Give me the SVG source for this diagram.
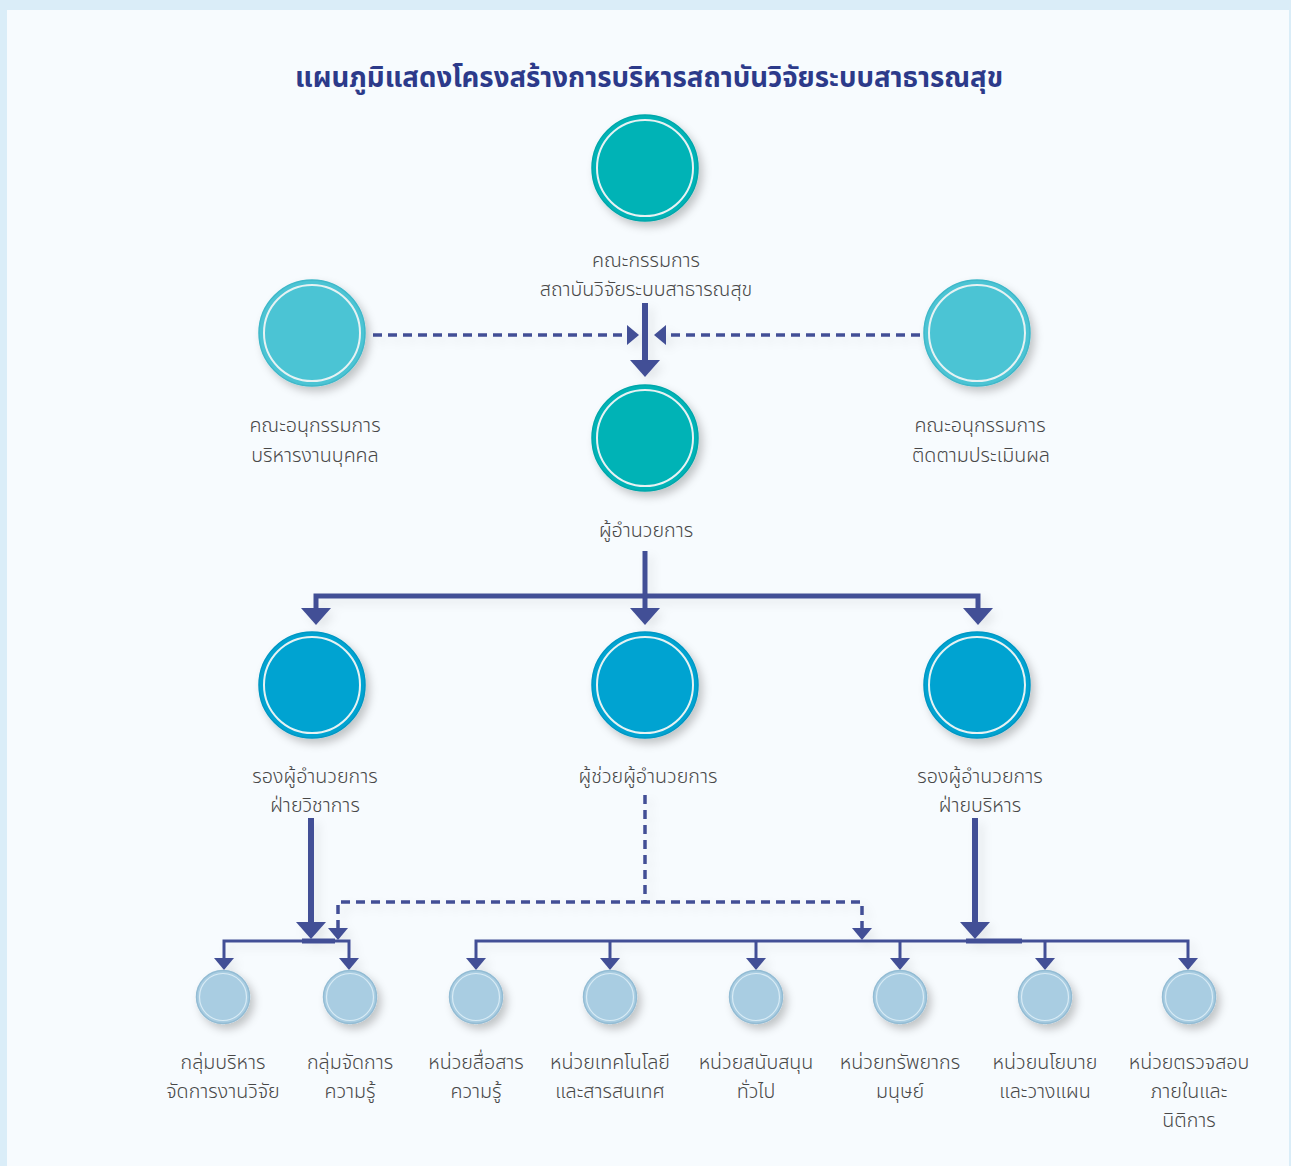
<svg xmlns="http://www.w3.org/2000/svg" width="1291" height="1166" viewBox="0 0 1291 1166">
<style>
.lbl{font-family:"Noto Sans Thai","Noto Sans","DejaVu Sans",sans-serif;font-size:19.7px;fill:#484848;text-anchor:middle;font-weight:300}
.title{font-family:"Noto Sans Thai","Noto Sans","DejaVu Sans",sans-serif;font-size:27.6px;fill:#2c3a8a;text-anchor:middle;font-weight:700}
.ln{stroke:#434f96;fill:none}
.dash{stroke:#434f96;fill:none;stroke-width:3.5;stroke-dasharray:9 6}
.ah{fill:#434f96}
.ring{fill:none;stroke:#e6f2f3;stroke-width:2}
.c1{fill:#00b3b6;stroke:#00a7aa;stroke-width:1.5}
.c2{fill:#4cc4d4;stroke:#3fb8c9;stroke-width:1.5}
.c3{fill:#00a3d1;stroke:#0097c3;stroke-width:1.5}
.c4{fill:#a9cde2;stroke:#93bcd4;stroke-width:1.5}
.ring4{fill:none;stroke:#d8ebf5;stroke-width:1.2}
</style>
<defs>
<filter id="sh" x="-30%" y="-30%" width="170%" height="170%">
<feDropShadow dx="4" dy="5" stdDeviation="4" flood-color="#000" flood-opacity="0.22"/>
</filter>
<filter id="lsh" x="-20%" y="-20%" width="140%" height="140%">
<feDropShadow dx="5" dy="5" stdDeviation="5" flood-color="#000" flood-opacity="0.08"/>
</filter>
</defs>
<rect width="1291" height="1166" fill="#daedf8"/>
<rect x="7" y="10" width="1282" height="1156" fill="#f7fbfe"/>
<text class="title" x="649" y="87">แผนภูมิแสดงโครงสร้างการบริหารสถาบันวิจัยระบบสาธารณสุข</text>

<g id="connectors" filter="url(#lsh)">
<line class="ln" x1="645" y1="303" x2="645" y2="362" stroke-width="6"/>
<polygon class="ah" points="630,360 660,360 645,377"/>
<line class="dash" x1="373" y1="335" x2="627" y2="335"/>
<polygon class="ah" points="627,325 639,335 627,345"/>
<line class="dash" x1="920" y1="335" x2="666" y2="335"/>
<polygon class="ah" points="666,325 654,335 666,345"/>

<line class="ln" x1="645" y1="551" x2="645" y2="610" stroke-width="5"/>
<polygon class="ah" points="630,608 660,608 645,625"/>
<polyline class="ln" points="316,610 316,596 978,596 978,610" stroke-width="5"/>
<polygon class="ah" points="301,608 331,608 316,625"/>
<polygon class="ah" points="963,608 993,608 978,625"/>

<line class="ln" x1="311" y1="818" x2="311" y2="924" stroke-width="6"/>
<polygon class="ah" points="296,922 326,922 311,939"/>
<polyline class="ln" points="224,960 224,941 349,941 349,960" stroke-width="3"/>
<line class="ln" x1="302" y1="941" x2="335" y2="941" stroke-width="5"/>
<polygon class="ah" points="214,958 234,958 224,970"/>
<polygon class="ah" points="339,958 359,958 349,970"/>

<line class="dash" x1="645" y1="795" x2="645" y2="902"/>
<polyline class="dash" points="338,929 338,902 862,902 862,929"/>
<polygon class="ah" points="328,928 348,928 338,940"/>
<polygon class="ah" points="852,928 872,928 862,940"/>

<line class="ln" x1="975" y1="818" x2="975" y2="924" stroke-width="6"/>
<polygon class="ah" points="960,922 990,922 975,939"/>
<polyline class="ln" points="476,960 476,941 1188,941 1188,960" stroke-width="3"/>
<line class="ln" x1="966" y1="941" x2="1022" y2="941" stroke-width="5"/>
<line class="ln" x1="610" y1="941" x2="610" y2="960" stroke-width="3"/>
<line class="ln" x1="756" y1="941" x2="756" y2="960" stroke-width="3"/>
<line class="ln" x1="900" y1="941" x2="900" y2="960" stroke-width="3"/>
<line class="ln" x1="1045" y1="941" x2="1045" y2="960" stroke-width="3"/>
<polygon class="ah" points="466,958 486,958 476,970"/>
<polygon class="ah" points="600,958 620,958 610,970"/>
<polygon class="ah" points="746,958 766,958 756,970"/>
<polygon class="ah" points="890,958 910,958 900,970"/>
<polygon class="ah" points="1035,958 1055,958 1045,970"/>
<polygon class="ah" points="1178,958 1198,958 1188,970"/>
</g>

<g id="board">
<circle class="c1" cx="645" cy="168" r="53" filter="url(#sh)"/>
<circle class="ring" cx="645" cy="168" r="48"/>
<text class="lbl" x="646" y="267">คณะกรรมการ</text>
<text class="lbl" x="646" y="296">สถาบันวิจัยระบบสาธารณสุข</text>
</g>
<g id="sub-hr">
<circle class="c2" cx="312" cy="333" r="53" filter="url(#sh)"/>
<circle class="ring" cx="312" cy="333" r="48"/>
<text class="lbl" x="315" y="432">คณะอนุกรรมการ</text>
<text class="lbl" x="315" y="462">บริหารงานบุคคล</text>
</g>
<g id="sub-eval">
<circle class="c2" cx="977" cy="333" r="53" filter="url(#sh)"/>
<circle class="ring" cx="977" cy="333" r="48"/>
<text class="lbl" x="980" y="432">คณะอนุกรรมการ</text>
<text class="lbl" x="981" y="462">ติดตามประเมินผล</text>
</g>
<g id="director">
<circle class="c1" cx="645" cy="438" r="53" filter="url(#sh)"/>
<circle class="ring" cx="645" cy="438" r="48"/>
<text class="lbl" x="646" y="537">ผู้อำนวยการ</text>
</g>
<g id="vp-academic">
<circle class="c3" cx="312" cy="685" r="53" filter="url(#sh)"/>
<circle class="ring" cx="312" cy="685" r="48"/>
<text class="lbl" x="315" y="783">รองผู้อำนวยการ</text>
<text class="lbl" x="315" y="812">ฝ่ายวิชาการ</text>
</g>
<g id="assistant">
<circle class="c3" cx="645" cy="685" r="53" filter="url(#sh)"/>
<circle class="ring" cx="645" cy="685" r="48"/>
<text class="lbl" x="648" y="783">ผู้ช่วยผู้อำนวยการ</text>
</g>
<g id="vp-admin">
<circle class="c3" cx="977" cy="685" r="53" filter="url(#sh)"/>
<circle class="ring" cx="977" cy="685" r="48"/>
<text class="lbl" x="980" y="783">รองผู้อำนวยการ</text>
<text class="lbl" x="980" y="812">ฝ่ายบริหาร</text>
</g>

<g id="u1">
<circle class="c4" cx="223" cy="997" r="26.5" filter="url(#sh)"/>
<circle class="ring4" cx="223" cy="997" r="23.5"/>
<text class="lbl" x="223" y="1069">กลุ่มบริหาร</text>
<text class="lbl" x="223" y="1098">จัดการงานวิจัย</text>
</g>
<g id="u2">
<circle class="c4" cx="350" cy="997" r="26.5" filter="url(#sh)"/>
<circle class="ring4" cx="350" cy="997" r="23.5"/>
<text class="lbl" x="350" y="1069">กลุ่มจัดการ</text>
<text class="lbl" x="350" y="1098">ความรู้</text>
</g>
<g id="u3">
<circle class="c4" cx="476" cy="997" r="26.5" filter="url(#sh)"/>
<circle class="ring4" cx="476" cy="997" r="23.5"/>
<text class="lbl" x="476" y="1069">หน่วยสื่อสาร</text>
<text class="lbl" x="476" y="1098">ความรู้</text>
</g>
<g id="u4">
<circle class="c4" cx="610" cy="997" r="26.5" filter="url(#sh)"/>
<circle class="ring4" cx="610" cy="997" r="23.5"/>
<text class="lbl" x="610" y="1069">หน่วยเทคโนโลยี</text>
<text class="lbl" x="610" y="1098">และสารสนเทศ</text>
</g>
<g id="u5">
<circle class="c4" cx="756" cy="997" r="26.5" filter="url(#sh)"/>
<circle class="ring4" cx="756" cy="997" r="23.5"/>
<text class="lbl" x="756" y="1069">หน่วยสนับสนุน</text>
<text class="lbl" x="756" y="1098">ทั่วไป</text>
</g>
<g id="u6">
<circle class="c4" cx="900" cy="997" r="26.5" filter="url(#sh)"/>
<circle class="ring4" cx="900" cy="997" r="23.5"/>
<text class="lbl" x="900" y="1069">หน่วยทรัพยากร</text>
<text class="lbl" x="900" y="1098">มนุษย์</text>
</g>
<g id="u7">
<circle class="c4" cx="1045" cy="997" r="26.5" filter="url(#sh)"/>
<circle class="ring4" cx="1045" cy="997" r="23.5"/>
<text class="lbl" x="1045" y="1069">หน่วยนโยบาย</text>
<text class="lbl" x="1045" y="1098">และวางแผน</text>
</g>
<g id="u8">
<circle class="c4" cx="1189" cy="997" r="26.5" filter="url(#sh)"/>
<circle class="ring4" cx="1189" cy="997" r="23.5"/>
<text class="lbl" x="1189" y="1069">หน่วยตรวจสอบ</text>
<text class="lbl" x="1189" y="1098">ภายในและ</text>
<text class="lbl" x="1189" y="1127">นิติการ</text>
</g>
</svg>
